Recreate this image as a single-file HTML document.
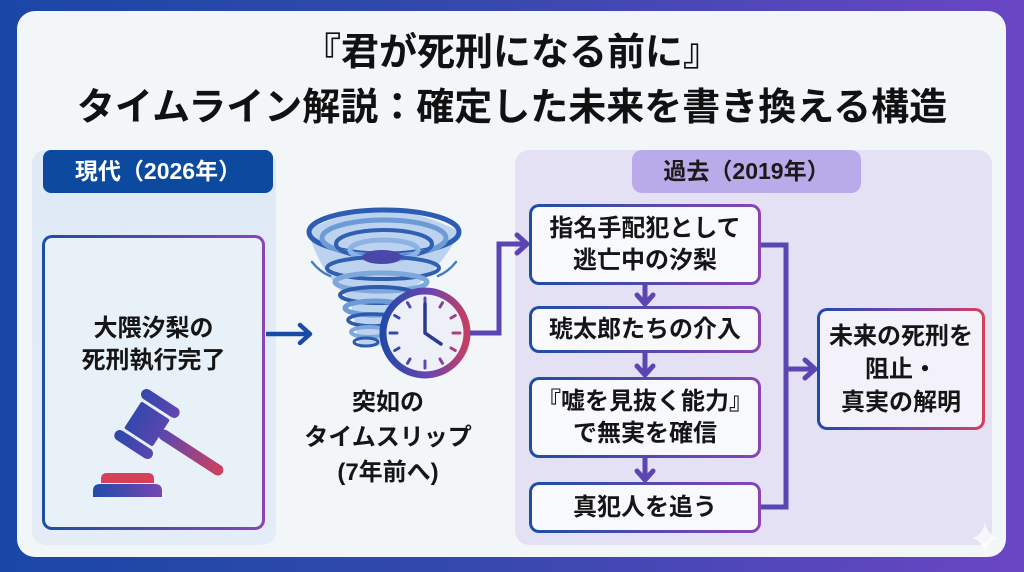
<!DOCTYPE html>
<html><head><meta charset="utf-8">
<style>
*{margin:0;padding:0;box-sizing:border-box;}
html,body{width:1024px;height:572px;overflow:hidden;}
body{position:relative;background:linear-gradient(90deg,#1a47a6 0%,#3448ad 45%,#6b46c4 100%);font-family:"Liberation Sans","Noto Sans CJK JP",sans-serif;font-weight:700;color:#151515;}
.abs{position:absolute;}
.panel{left:17px;top:11px;width:989px;height:546px;border-radius:18px;background:#f2f6f9;}
.title{left:0;width:1024px;text-align:center;font-size:38px;line-height:38px;color:#111;}
.box{position:absolute;display:flex;align-items:center;justify-content:center;text-align:center;border:3px solid transparent;border-radius:10px;background:linear-gradient(#f8f9fc,#f8f9fc) padding-box,linear-gradient(90deg,#1c4ea3,#8a45b2) border-box;font-size:24px;line-height:32px;color:#151515;}
</style></head><body>
<div class="abs panel"></div>
<div class="abs title" style="top:34px;">『君が死刑になる前に』</div>
<div class="abs title" style="top:89px;">タイムライン解説：確定した未来を書き換える構造</div>

<!-- left section -->
<div class="abs" style="left:32px;top:150px;width:244px;height:395px;border-radius:14px;background:linear-gradient(180deg,#dfeaf6,#e4edf7);"></div>
<div class="abs" style="left:43px;top:150px;width:230px;height:43px;border-radius:8px;background:#0c4a9f;color:#fff;font-size:23px;line-height:43px;text-align:center;">現代（2026年）</div>
<div class="abs" style="left:42px;top:235px;width:223px;height:295px;border:3px solid transparent;border-radius:10px;background:linear-gradient(#e8f0f8,#e8f0f8) padding-box,linear-gradient(90deg,#1c4ea3,#8a45b2) border-box;"></div>
<div class="abs" style="left:42px;top:313px;width:223px;text-align:center;font-size:24px;line-height:32px;">大隈汐梨の<br>死刑執行完了</div>

<!-- right section -->
<div class="abs" style="left:515px;top:150px;width:477px;height:395px;border-radius:14px;background:#e5e1f4;"></div>
<div class="abs" style="left:632px;top:150px;width:229px;height:43px;border-radius:10px;background:#b9aaea;color:#1a1a1a;font-size:23px;line-height:43px;text-align:center;">過去（2019年）</div>

<svg class="abs" style="left:0;top:0;" width="1024" height="572" viewBox="0 0 1024 572">
<defs>
<linearGradient id="gv" gradientUnits="userSpaceOnUse" x1="-30" y1="15" x2="92" y2="0">
<stop offset="0" stop-color="#2448a8"/><stop offset="0.4" stop-color="#5a46b0"/><stop offset="1" stop-color="#d6405a"/></linearGradient>
<linearGradient id="gb" gradientUnits="userSpaceOnUse" x1="93" y1="0" x2="162" y2="0">
<stop offset="0" stop-color="#1e4ca8"/><stop offset="1" stop-color="#7a45b2"/></linearGradient>
<linearGradient id="ck" gradientUnits="userSpaceOnUse" x1="380" y1="0" x2="470" y2="0">
<stop offset="0" stop-color="#1f4aa8"/><stop offset="0.55" stop-color="#6a45b0"/><stop offset="1" stop-color="#cc3d5c"/></linearGradient>
</defs>

<!-- gavel -->
<g transform="translate(147,424) rotate(33)" fill="url(#gv)">
<rect x="-17" y="-16" width="34" height="32" rx="2"/>
<rect x="-22" y="-30" width="44" height="11" rx="5.5"/>
<rect x="-22" y="19" width="44" height="11" rx="5.5"/>
<rect x="15" y="-5.5" width="75" height="11" rx="5.5"/>
</g>
<path d="M101 483 L101 479 Q101 473 107 473 L148 473 Q154 473 154 479 L154 483 Z" fill="#d8405a"/>
<path d="M93 497 L93 491 Q93 484 100 484 L155 484 Q162 484 162 491 L162 497 Z" fill="url(#gb)"/>

<!-- left arrow -->
<line x1="266" y1="334" x2="309" y2="334" stroke="#1a4aa8" stroke-width="4.5"/>
<polyline points="300,325 310,334 300,343" fill="none" stroke="#1a4aa8" stroke-width="4.5" stroke-linecap="round" stroke-linejoin="round"/>

<!-- tornado -->
<path d="M308 230 Q383 190 460 232 Q440 270 410 290 L385 345 L360 348 L350 300 Q318 270 308 230 Z" fill="#bcd2ee"/>
<g fill="none" stroke-linecap="round">
<ellipse cx="384" cy="232" rx="75" ry="22" stroke="#2d5db3" stroke-width="5"/>
<ellipse cx="384" cy="238" rx="62" ry="18" stroke="#6d9bd6" stroke-width="5"/>
<ellipse cx="384" cy="244" rx="48" ry="14" stroke="#2f5fb0" stroke-width="4"/>
<ellipse cx="384" cy="250" rx="34" ry="10" stroke="#8db3e2" stroke-width="5"/>
<ellipse cx="383" cy="268" rx="56" ry="11" stroke="#2f5fb0" stroke-width="4"/>
<ellipse cx="381" cy="282" rx="46" ry="9" stroke="#7ea8dc" stroke-width="5"/>
<ellipse cx="378" cy="295" rx="38" ry="8" stroke="#2d5aaa" stroke-width="4"/>
<ellipse cx="375" cy="308" rx="30" ry="7" stroke="#6d9bd6" stroke-width="5"/>
<ellipse cx="372" cy="320" rx="24" ry="6" stroke="#2d5aaa" stroke-width="3.5"/>
<ellipse cx="369" cy="332" rx="18" ry="5" stroke="#7ea8dc" stroke-width="4"/>
<ellipse cx="366" cy="342" rx="12" ry="4" stroke="#2d5aaa" stroke-width="3"/>
<path d="M312 262 Q320 272 330 276" stroke="#4a7cc4" stroke-width="2.5"/>
<path d="M456 262 Q448 272 438 276" stroke="#4a7cc4" stroke-width="2.5"/>
</g>
<ellipse cx="382" cy="257" rx="20" ry="7" fill="#4a47a8"/>

<!-- clock -->
<circle cx="425" cy="333" r="42" fill="#eef0f8" stroke="url(#ck)" stroke-width="7"/>
<g stroke="url(#ck)" stroke-width="3" stroke-linecap="round">
<line x1="425" y1="298" x2="425" y2="305"/>
<line x1="425" y1="361" x2="425" y2="368"/>
<line x1="390" y1="333" x2="397" y2="333"/>
<line x1="453" y1="333" x2="460" y2="333"/>
<line x1="442.5" y1="302.7" x2="440" y2="307"/>
<line x1="455.3" y1="315.5" x2="451" y2="318"/>
<line x1="455.3" y1="350.5" x2="451" y2="348"/>
<line x1="442.5" y1="363.3" x2="440" y2="359"/>
<line x1="407.5" y1="363.3" x2="410" y2="359"/>
<line x1="394.7" y1="350.5" x2="399" y2="348"/>
<line x1="394.7" y1="315.5" x2="399" y2="318"/>
<line x1="407.5" y1="302.7" x2="410" y2="307"/>
</g>
<polyline points="425,304 425,333 441,344" fill="none" stroke="#2c3a8e" stroke-width="3.5" stroke-linecap="round" stroke-linejoin="round"/>

<!-- connectors -->
<g fill="none" stroke="#5a45b3" stroke-width="5" stroke-linejoin="miter">
<polyline points="470,333 499,333 499,244 524,244"/>
<polyline points="761,245 786,245 786,507 761,507"/>
<line x1="786" y1="369" x2="812" y2="369"/>
<line x1="645" y1="285" x2="645" y2="303"/>
<line x1="645" y1="353" x2="645" y2="374"/>
<line x1="645" y1="458" x2="645" y2="479"/>
</g>
<g fill="none" stroke="#5a45b3" stroke-width="5" stroke-linecap="round" stroke-linejoin="round">
<polyline points="517,235 527,244 517,253"/>
<polyline points="805,360 815,369 805,378"/>
<polyline points="637,295 645,304 653,295"/>
<polyline points="637,366 645,375 653,366"/>
<polyline points="637,471 645,480 653,471"/>
</g>
<!-- sparkle -->
<path d="M985 522 Q987 535 998 538 Q987 541 985 554 Q983 541 972 538 Q983 535 985 522 Z" fill="#ffffff" opacity="0.7"/>
</svg>

<div class="abs" style="left:300px;top:385px;width:176px;text-align:center;font-size:24px;line-height:35px;">突如の<br>タイムスリップ<br>(7年前へ)</div>

<div class="box" style="left:529px;top:204px;width:232px;height:81px;">指名手配犯として<br>逃亡中の汐梨</div>
<div class="box" style="left:529px;top:306px;width:232px;height:47px;">琥太郎たちの介入</div>
<div class="box" style="left:529px;top:377px;width:232px;height:81px;">『嘘を見抜く能力』<br>で無実を確信</div>
<div class="box" style="left:529px;top:482px;width:232px;height:51px;">真犯人を追う</div>
<div class="box" style="left:817px;top:308px;width:168px;height:122px;line-height:33px;background:linear-gradient(#f3f1fa,#f3f1fa) padding-box,linear-gradient(90deg,#1f4aa8,#7a45b0 55%,#d6405a) border-box;">未来の死刑を<br>阻止・<br>真実の解明</div>
</body></html>
